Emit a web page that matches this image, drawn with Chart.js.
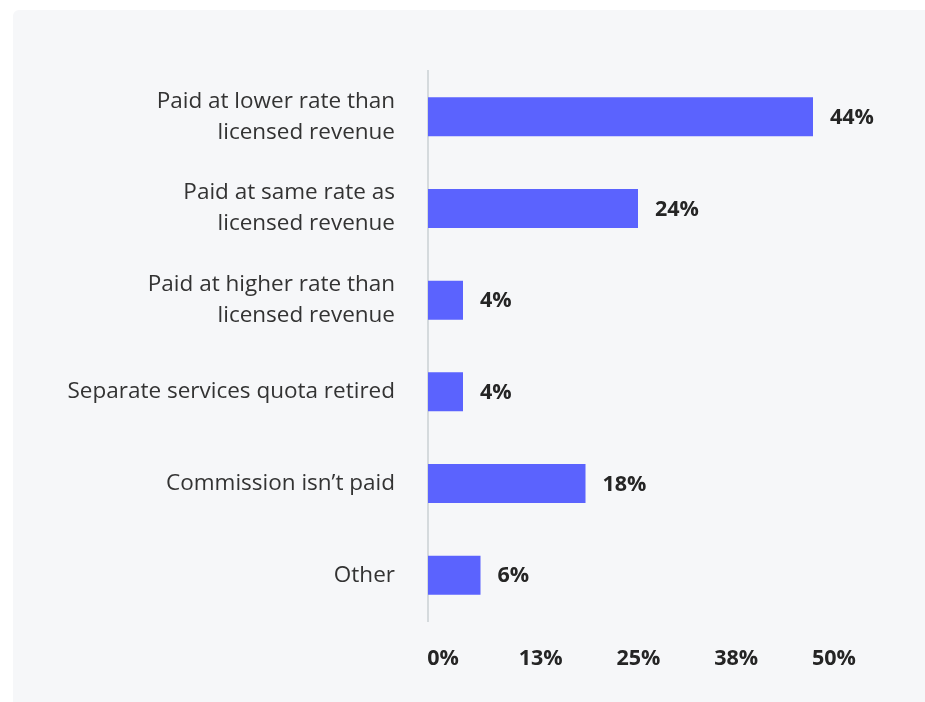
<!DOCTYPE html>
<html>
<head>
<meta charset="utf-8">
<script src="https://cdn.jsdelivr.net/npm/chart.js@4"></script>
<style>
  html, body { margin: 0; padding: 0; background: #ffffff; }
  #panel {
    position: absolute; left: 13px; top: 10px; right: 0; bottom: 0;
    background: #f6f7f9; border-radius: 6px 0 0 0;
  }
  #myChart { position: absolute; left: 0; top: 0; }
</style>
</head>
<body>
<div id="panel"></div>
<canvas id="myChart" width="925" height="702"></canvas>
<script>
const categories = [
  ['Paid at lower rate than', 'licensed revenue'],
  ['Paid at same rate as', 'licensed revenue'],
  ['Paid at higher rate than', 'licensed revenue'],
  'Separate services quota retired',
  'Commission isn\u2019t paid',
  'Other'
];
const shares = [44, 24, 4, 4, 18, 6];
const tickValues = [0, 12.5, 25, 37.5, 50];

const fontFamily = '"Open Sans", sans-serif';

// writes the percentage just past the end of each bar
const barValueLabels = {
  id: 'barValueLabels',
  afterDatasetsDraw(chart) {
    const ctx = chart.ctx;
    const meta = chart.getDatasetMeta(0);
    ctx.save();
    ctx.font = 'bold 21.5px ' + fontFamily;
    ctx.fillStyle = '#252525';
    ctx.textAlign = 'left';
    ctx.textBaseline = 'middle';
    meta.data.forEach((bar, index) => {
      ctx.fillText(shares[index] + '%', bar.x + 17, bar.y + 1);
    });
    ctx.restore();
  }
};

let ctx = document.getElementById('myChart').getContext('2d');
let myGraph = new Chart(ctx, {
  type: 'bar',
  data: {
    labels: categories,
    datasets: [
      {
        data: shares,
        backgroundColor: '#5b63fe',
        barPercentage: 0.425,
        categoryPercentage: 1
      }
    ]
  },
  options: {
    indexAxis: 'y',
    responsive: false,
    animation: false,
    layout: { padding: { top: 71, right: 59.5, bottom: 0, left: 0 } },
    plugins: {
      legend: { display: false },
      tooltip: { enabled: false }
    },
    scales: {
      y: {
        grid: { display: false, drawTicks: false },
        border: { display: true, color: '#d5dadd', width: 2 },
        ticks: {
          padding: 33,
          color: '#333333',
          font: { family: fontFamily, size: 22.5, lineHeight: 1.38 }
        },
        afterFit: (scale) => { scale.width = 428; }
      },
      x: {
        display: false,
        min: 0,
        max: 50
      },
      x2: {
        type: 'linear',
        axis: 'x',
        position: 'bottom',
        min: -1.92,
        max: 54.03,
        grid: { display: false, drawTicks: false },
        border: { display: false },
        ticks: {
          padding: 25,
          color: '#252525',
          maxRotation: 0,
          font: { family: fontFamily, size: 21.5, weight: 'bold' },
          callback: (value) => Math.round(value) + '%'
        },
        afterBuildTicks: (scale) => {
          scale.ticks = tickValues.map((v) => ({ value: v }));
        },
        afterFit: (scale) => { scale.height = 81; }
      }
    }
  },
  plugins: [barValueLabels]
});
</script>
</body>
</html>
